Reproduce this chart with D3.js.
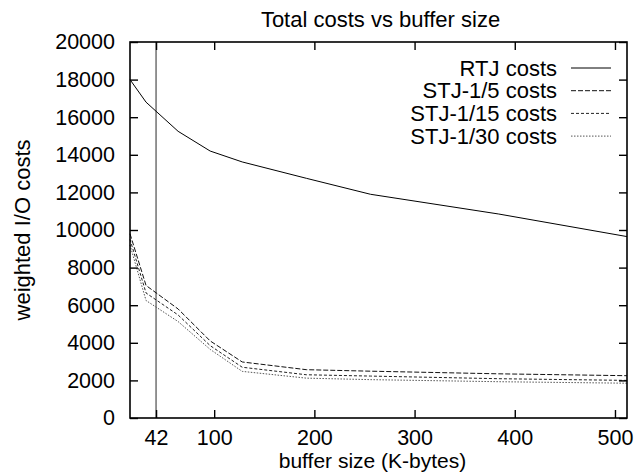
<!DOCTYPE html>
<html>
<head>
<meta charset="utf-8">
<script src="https://cdn.jsdelivr.net/npm/d3@7"></script>
<style>
  body { margin: 0; background: #fff; }
  text { font-family: "Liberation Sans", Arial, Helvetica, sans-serif; fill: #000; }
</style>
</head>
<body>
<svg id="chart" width="636" height="472"></svg>
<script>
// buffer sizes (K-bytes) and costs
var bufferSizes = [16, 32, 64, 96, 128, 192, 256, 384, 512];
var rtjCosts    = [18000, 16800, 15250, 14200, 13620, 12750, 11900, 10850, 9650];
var stj5Costs   = [9800, 7050, 5800, 4100, 2980, 2570, 2490, 2350, 2250];
var stj15Costs  = [9500, 6650, 5480, 3850, 2700, 2300, 2230, 2090, 2000];
var stj30Costs  = [9200, 6250, 5130, 3650, 2480, 2120, 2040, 1930, 1850];

var seriesNames = ['RTJ costs', 'STJ-1/5 costs', 'STJ-1/15 costs', 'STJ-1/30 costs'];
var seriesDash  = [null, '5,2', '3,2', '1.5,1.5'];
var seriesColor = ['#000', '#111', '#222', '#555'];

var xTicks = [42, 100, 200, 300, 400, 500];
var yTicks = [0, 2000, 4000, 6000, 8000, 10000, 12000, 14000, 16000, 18000, 20000];
var markLine = 42;

var margin = { left: 130, top: 42, right: 9, bottom: 54 },
    width = 636 - margin.left - margin.right,
    height = 472 - margin.top - margin.bottom;

var svg = d3.select('#chart');
var g = svg.append('g').attr('transform', 'translate(' + margin.left + ',' + margin.top + ')');

var x = d3.scaleLinear().domain([16, 512]).range([0, width]);
var y = d3.scaleLinear().domain([0, 20000]).range([height, 0]);

var fontSize = 22,
    tickFont = 21.5;

// vertical marker at 42K
g.append('line')
  .attr('x1', x(markLine)).attr('x2', x(markLine))
  .attr('y1', 0).attr('y2', height)
  .attr('stroke', '#666').attr('stroke-width', 1.4);

// lines
var line = d3.line()
  .x(function(d) { return x(d[0]); })
  .y(function(d) { return y(d[1]); });

[rtjCosts, stj5Costs, stj15Costs, stj30Costs].forEach(function(vals, i) {
  g.append('path')
    .datum(bufferSizes.map(function(b, j) { return [b, vals[j]]; }))
    .attr('d', line)
    .attr('fill', 'none')
    .attr('stroke', seriesColor[i])
    .attr('stroke-width', 1)
    .attr('stroke-dasharray', seriesDash[i]);
});

// axes with inward ticks on all four sides
var tickLen = 8;
g.append('g').attr('transform', 'translate(0,' + height + ')')
  .call(d3.axisBottom(x).tickValues(xTicks).tickSizeInner(-tickLen).tickSizeOuter(0).tickPadding(12));
g.append('g')
  .call(d3.axisTop(x).tickValues(xTicks).tickSizeInner(-tickLen).tickSizeOuter(0).tickFormat(''));
g.append('g')
  .call(d3.axisLeft(y).tickValues(yTicks).tickSizeInner(-tickLen).tickSizeOuter(0)
    .tickPadding(15).tickFormat(d3.format('d')));
g.append('g').attr('transform', 'translate(' + width + ',0)')
  .call(d3.axisRight(y).tickValues(yTicks).tickSizeInner(-tickLen).tickSizeOuter(0).tickFormat(''));

g.selectAll('.domain').remove();
g.selectAll('.tick line').attr('stroke', '#000').attr('stroke-width', 1.4);
g.selectAll('.tick text')
  .style('font-size', tickFont + 'px')
  .style('font-family', '"Liberation Sans", Arial, sans-serif')
  .attr('fill', '#000');

// frame
g.append('rect')
  .attr('x', 0).attr('y', 0).attr('width', width).attr('height', height)
  .attr('fill', 'none').attr('stroke', '#000').attr('stroke-width', 1.6);

// titles
svg.append('text')
  .attr('x', margin.left + width / 2 + 2).attr('y', 27)
  .attr('text-anchor', 'middle').style('font-size', fontSize + 'px')
  .text('Total costs vs buffer size');

svg.append('text')
  .attr('x', margin.left + width / 2 - 6).attr('y', 468)
  .attr('text-anchor', 'middle').style('font-size', '21px')
  .text('buffer size (K-bytes)');

svg.append('text')
  .attr('transform', 'translate(30,' + (margin.top + height / 2) + ') rotate(-90)')
  .attr('text-anchor', 'middle').style('font-size', fontSize + 'px')
  .text('weighted I/O costs');

// legend
var legend = g.append('g').attr('transform', 'translate(' + (width - 70) + ',26)');
seriesNames.forEach(function(name, i) {
  var row = legend.append('g').attr('transform', 'translate(0,' + (i * 22.7) + ')');
  row.append('text')
    .attr('x', 0).attr('y', 0).attr('dy', '0.35em')
    .attr('text-anchor', 'end').style('font-size', fontSize + 'px')
    .text(name);
  row.append('line')
    .attr('x1', 14).attr('x2', 54).attr('y1', 0).attr('y2', 0)
    .attr('stroke', seriesColor[i]).attr('stroke-width', 1)
    .attr('stroke-dasharray', seriesDash[i]);
});
</script>
</body>
</html>
